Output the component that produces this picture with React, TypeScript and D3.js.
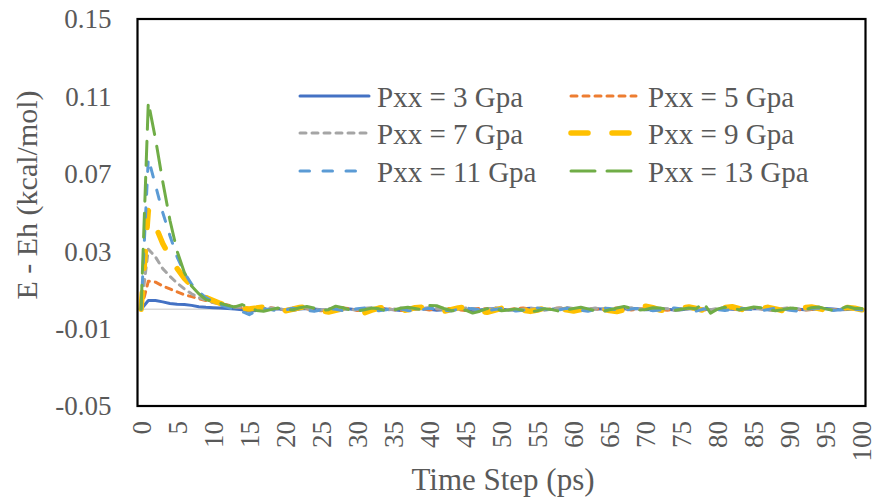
import React from "react";
import * as d3 from "d3";

const timeSteps: number[] = Array.from({ length: 101 }, (_, i) => i);
const xTickLabels: number[] = [0, 5, 10, 15, 20, 25, 30, 35, 40, 45, 50, 55, 60, 65, 70, 75, 80, 85, 90, 95, 100];
const yTickValues: number[] = [0.15, 0.11, 0.07, 0.03, -0.01, -0.05];

const pxx3: number[] = [
  0, 0.0045, 0.0045, 0.0038, 0.0030, 0.0026, 0.0025, 0.0020, 0.0013, 0.0010,
  0.0008, 0.0006, 0.0004, 0.0001, -0.0002, -0.0010, -0.0006, -0.0002, 0.0000, 0.0003,
  -0.0004, -0.0006, 0.0001, 0.0004, 0.0002, -0.0003, -0.0005, 0.0000, 0.0003, 0.0001,
  -0.0004, -0.0002, 0.0002, 0.0005, 0.0001, -0.0003, -0.0006, -0.0001, 0.0003, 0.0004,
  0.0000, -0.0005, -0.0003, 0.0002, 0.0001, -0.0002, -0.0007, -0.0004, 0.0001, 0.0003,
  0.0000, -0.0004, -0.0002, 0.0003, 0.0005, 0.0001, -0.0003, 0.0000, 0.0004, 0.0002,
  -0.0003, -0.0005, 0.0000, 0.0003, 0.0001, -0.0002, -0.0004, 0.0001, 0.0004, 0.0002,
  -0.0002, -0.0001, 0.0003, 0.0000, -0.0004, -0.0002, 0.0002, 0.0004, 0.0001, -0.0003,
  -0.0001, 0.0002, 0.0000, -0.0003, 0.0001, 0.0004, 0.0002, -0.0002, -0.0004, 0.0000,
  0.0003, 0.0001, -0.0002, -0.0001, 0.0002, 0.0004, 0.0001, -0.0003, -0.0001, 0.0002,
  0.0000,
];
const pxx5: number[] = [
  0, 0.0145, 0.0140, 0.0120, 0.0105, 0.0090, 0.0075, 0.0065, 0.0055, 0.0045,
  0.0035, 0.0030, 0.0022, 0.0014, 0.0008, 0.0002, -0.0004, 0.0003, 0.0008, 0.0002,
  -0.0005, 0.0001, 0.0006, 0.0003, -0.0004, -0.0008, -0.0002, 0.0004, 0.0007, 0.0002,
  -0.0006, -0.0003, 0.0003, 0.0008, 0.0004, -0.0002, -0.0007, 0.0000, 0.0005, 0.0002,
  -0.0004, 0.0001, 0.0006, 0.0003, -0.0003, -0.0006, 0.0001, 0.0005, 0.0002, -0.0004,
  -0.0007, -0.0002, 0.0004, 0.0007, 0.0001, -0.0005, -0.0002, 0.0003, 0.0006, 0.0000,
  -0.0006, -0.0001, 0.0005, 0.0003, -0.0003, 0.0002, 0.0007, 0.0002, -0.0004, -0.0001,
  0.0004, 0.0006, 0.0000, -0.0005, -0.0002, 0.0003, 0.0005, 0.0001, -0.0004, -0.0006,
  0.0000, 0.0004, 0.0002, -0.0003, 0.0001, 0.0006, 0.0003, -0.0004, -0.0002, 0.0003,
  0.0005, 0.0000, -0.0005, -0.0001, 0.0004, 0.0002, -0.0003, 0.0001, 0.0005, 0.0002,
  -0.0002,
];
const pxx7: number[] = [
  0, 0.0310, 0.0270, 0.0210, 0.0170, 0.0135, 0.0105, 0.0080, 0.0060, 0.0048,
  0.0035, 0.0026, 0.0018, 0.0010, 0.0012, 0.0004, -0.0003, 0.0002, 0.0007, 0.0003,
  -0.0002, 0.0004, 0.0009, 0.0005, -0.0001, -0.0004, 0.0002, 0.0006, 0.0003, -0.0003,
  -0.0001, 0.0005, 0.0008, 0.0002, -0.0004, 0.0000, 0.0006, 0.0004, -0.0002, 0.0003,
  0.0009, 0.0004, -0.0002, -0.0005, 0.0001, 0.0007, 0.0003, -0.0003, 0.0002, 0.0008,
  0.0004, -0.0002, -0.0006, 0.0000, 0.0005, 0.0002, -0.0004, 0.0001, 0.0007, 0.0010,
  0.0003, -0.0003, 0.0001, 0.0006, 0.0002, -0.0005, -0.0002, 0.0004, 0.0008, 0.0002,
  -0.0004, -0.0001, 0.0005, 0.0003, -0.0006, -0.0003, 0.0002, 0.0006, 0.0001, -0.0002,
  0.0004, 0.0009, 0.0003, -0.0003, 0.0000, 0.0005, 0.0002, -0.0005, -0.0001, 0.0004,
  0.0008, 0.0002, -0.0003, 0.0001, 0.0006, 0.0003, -0.0004, 0.0000, 0.0005, 0.0003,
  -0.0002,
];
const pxx9: number[] = [
  0, 0.0510, 0.0430, 0.0340, 0.0270, 0.0210, 0.0160, 0.0120, 0.0085, 0.0060,
  0.0045, 0.0030, 0.0020, 0.0010, 0.0004, 0.0001, 0.0006, 0.0012, 0.0005, -0.0004,
  -0.0008, 0.0000, 0.0009, 0.0013, 0.0004, -0.0010, -0.0014, -0.0006, 0.0003, 0.0008,
  -0.0012, -0.0018, -0.0005, 0.0006, 0.0010, 0.0002, -0.0007, -0.0003, 0.0008, 0.0011,
  0.0004, -0.0006, -0.0010, -0.0002, 0.0007, 0.0012, 0.0001, -0.0009, -0.0016, -0.0006,
  0.0005, 0.0010, 0.0003, -0.0005, -0.0011, -0.0004, 0.0006, 0.0013, 0.0007, -0.0003,
  -0.0009, -0.0002, 0.0008, 0.0011, 0.0002, -0.0007, -0.0012, -0.0003, 0.0006, 0.0014,
  0.0016, 0.0008, -0.0004, -0.0010, -0.0003, 0.0007, 0.0012, 0.0004, -0.0006, -0.0011,
  -0.0002, 0.0009, 0.0013, 0.0003, -0.0008, -0.0004, 0.0006, 0.0010, 0.0002, -0.0007,
  -0.0010, -0.0001, 0.0008, 0.0012, 0.0004, -0.0005, -0.0008, 0.0001, 0.0009, 0.0005,
  -0.0003,
];
const pxx11: number[] = [
  0, 0.0780, 0.0640, 0.0500, 0.0380, 0.0270, 0.0190, 0.0130, 0.0090, 0.0060,
  0.0040, 0.0022, 0.0010, -0.0004, -0.0012, -0.0028, -0.0008, 0.0003, -0.0002, -0.0009,
  -0.0004, 0.0005, 0.0002, -0.0006, -0.0011, -0.0003, 0.0004, 0.0000, -0.0007, -0.0004,
  0.0003, 0.0006, -0.0002, -0.0008, -0.0003, 0.0004, 0.0001, -0.0006, -0.0010, -0.0002,
  0.0005, 0.0002, -0.0005, -0.0009, 0.0000, 0.0006, 0.0003, -0.0004, -0.0008, -0.0001,
  0.0004, -0.0002, -0.0009, -0.0005, 0.0003, 0.0007, 0.0001, -0.0006, -0.0003, 0.0005,
  0.0002, -0.0005, -0.0010, -0.0002, 0.0006, 0.0004, -0.0003, -0.0007, 0.0001, 0.0005,
  -0.0001, -0.0008, -0.0004, 0.0003, 0.0007, 0.0002, -0.0005, -0.0009, 0.0000, 0.0004,
  -0.0002, -0.0007, 0.0001, 0.0006, 0.0003, -0.0004, -0.0008, -0.0001, 0.0005, 0.0002,
  -0.0005, -0.0009, -0.0002, 0.0004, 0.0006, 0.0000, -0.0006, -0.0003, 0.0004, 0.0001,
  -0.0004,
];
const pxx13: number[] = [
  0, 0.1070, 0.0880, 0.0660, 0.0460, 0.0300, 0.0190, 0.0120, 0.0080, 0.0050,
  0.0040, 0.0030, 0.0020, 0.0012, 0.0024, 0.0010, -0.0006, -0.0010, -0.0002, 0.0006,
  0.0002, -0.0004, 0.0008, 0.0014, 0.0006, -0.0005, -0.0002, 0.0016, 0.0008, -0.0004,
  -0.0009, -0.0003, 0.0006, 0.0002, -0.0008, -0.0004, 0.0005, 0.0010, 0.0004, -0.0002,
  0.0020, 0.0018, 0.0004, -0.0006, -0.0012, -0.0004, -0.0020, -0.0010, 0.0003, 0.0008,
  -0.0008, -0.0004, 0.0002, -0.0006, -0.0014, -0.0008, 0.0003, -0.0002, -0.0010, -0.0004,
  0.0004, 0.0010, 0.0002, -0.0008, -0.0012, -0.0003, 0.0006, 0.0014, 0.0005, -0.0004,
  -0.0001, 0.0008, 0.0006, -0.0002, -0.0006, 0.0000, 0.0006, 0.0002, 0.0036, -0.0020,
  0.0002, 0.0010, 0.0006, -0.0003, 0.0004, 0.0012, 0.0008, -0.0002, -0.0008, -0.0003,
  0.0006, 0.0004, -0.0004, 0.0008, 0.0012, 0.0002, -0.0006, 0.0003, 0.0014, 0.0004,
  0.0004,
];

const seriesNames: string[] = ["Pxx = 3 Gpa", "Pxx = 5 Gpa", "Pxx = 7 Gpa", "Pxx = 9 Gpa", "Pxx = 11 Gpa", "Pxx = 13 Gpa"];
const seriesValues: number[][] = [pxx3, pxx5, pxx7, pxx9, pxx11, pxx13];
const seriesColors: string[] = ["#4472C4", "#ED7D31", "#A5A5A5", "#FFC000", "#5B9BD5", "#70AD47"];
const seriesWidths: number[] = [3, 3, 3, 5.5, 3, 3];
const seriesDashes: string[] = ["none", "6,6", "6,6", "17,24", "9.5,13.5", "24,12"];

const W = 874;
const H = 500;
const plot = { left: 137.5, right: 865.5, top: 19, bottom: 406 };
const FONT = "'Liberation Serif', 'Times New Roman', serif";
const TEXT = "#595959";

export default function App() {
  const x = d3
    .scaleBand<number>()
    .domain(timeSteps)
    .range([plot.left, plot.right])
    .paddingInner(0)
    .paddingOuter(0);
  const xc = (t: number) => (x(t) as number) + x.bandwidth() / 2;
  const y = d3.scaleLinear().domain([-0.05, 0.15]).range([plot.bottom, plot.top]);

  const line = d3
    .line<number>()
    .x((_, i) => xc(timeSteps[i]))
    .y((d) => y(d))
    .curve(d3.curveLinear);

  const legendRows = [96, 133, 171];
  const legendCols = [
    { x1: 300, x2: 369, tx: 377 },
    { x1: 571, x2: 636, tx: 648 },
  ];

  return (
    <svg
      width={W}
      height={H}
      style={{ position: "absolute", left: 0, top: 0, background: "#fff" }}
      fontFamily={FONT}
    >
      <rect x={0} y={0} width={W} height={H} fill="#fff" />
      <defs>
        <clipPath id="clip">
          <rect x={plot.left} y={plot.top} width={plot.right - plot.left} height={plot.bottom - plot.top} />
        </clipPath>
      </defs>
      {/* zero axis line */}
      <line x1={plot.left} x2={plot.right} y1={y(0)} y2={y(0)} stroke="#D9D9D9" strokeWidth={1.5} />

      {/* series */}
      <g clipPath="url(#clip)">
        {seriesValues.map((vals, i) => (
          <path
            key={seriesNames[i]}
            d={line(vals) || ""}
            fill="none"
            stroke={seriesColors[i]}
            strokeWidth={seriesWidths[i]}
            strokeDasharray={seriesDashes[i]}
            strokeLinecap="round"
            strokeLinejoin="round"
          />
        ))}
      </g>

      {/* frame */}
      <rect
        x={plot.left}
        y={plot.top}
        width={plot.right - plot.left}
        height={plot.bottom - plot.top}
        fill="none"
        stroke="#000"
        strokeWidth={2.2}
      />

      {/* y tick labels */}
      {yTickValues.map((v) => (
        <text
          key={v}
          x={111.5}
          y={y(v)}
          dy="0.35em"
          textAnchor="end"
          fontSize={27}
          fill={TEXT}
        >
          {v.toFixed(2)}
        </text>
      ))}

      {/* x tick labels */}
      {xTickLabels.map((t) => (
        <text
          key={t}
          transform={`translate(${xc(t)},${421}) rotate(-90)`}
          dy="0.35em"
          textAnchor="end"
          fontSize={27}
          fill={TEXT}
        >
          {t}
        </text>
      ))}

      {/* axis titles */}
      <text x={503} y={490} textAnchor="middle" fontSize={31} fill={TEXT}>
        Time Step (ps)
      </text>
      <text
        transform={`translate(37,195) rotate(-90)`}
        textAnchor="middle"
        fontSize={30}
        fill={TEXT}
      >
        E - Eh (kcal/mol)
      </text>

      {/* legend */}
      {seriesNames.map((name, i) => {
        const col = legendCols[i % 2];
        const ry = legendRows[Math.floor(i / 2)];
        return (
          <g key={name}>
            <line
              x1={col.x1}
              x2={col.x2}
              y1={ry}
              y2={ry}
              stroke={seriesColors[i]}
              strokeWidth={seriesWidths[i]}
              strokeDasharray={seriesDashes[i]}
              strokeLinecap="round"
            />
            <text x={col.tx} y={ry + 10.5} fontSize={29} fill={TEXT}>
              {name}
            </text>
          </g>
        );
      })}
    </svg>
  );
}
